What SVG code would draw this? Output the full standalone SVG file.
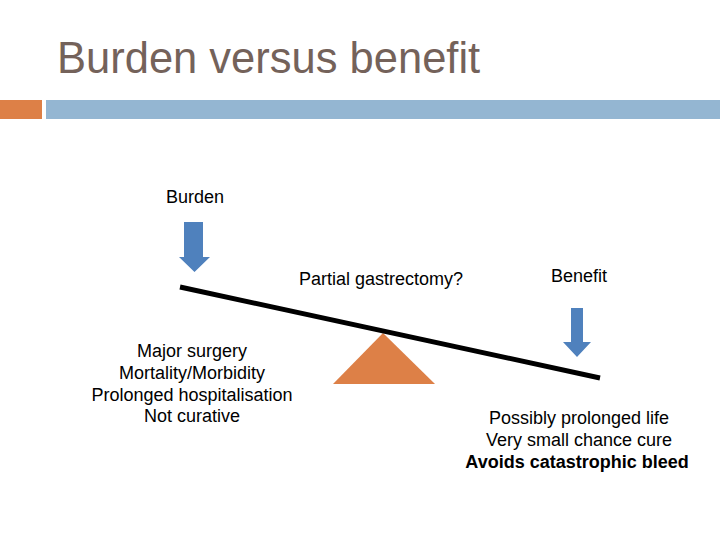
<svg xmlns="http://www.w3.org/2000/svg" width="720" height="540" viewBox="0 0 720 540">
<style>
.t{font-family:"Liberation Sans",Arial,sans-serif;font-size:18px;fill:#000;text-anchor:middle}
.b{font-weight:bold}
.arrow{fill:#4f81bd}
</style>
<rect width="720" height="540" fill="#fff"/>
<g id="header">
<text x="57" y="73" font-family="Liberation Sans, Arial, sans-serif" font-size="43.5" fill="#74625a">Burden versus benefit</text>
<rect x="0" y="100" width="42" height="19" fill="#dd8047"/>
<rect x="46" y="100" width="674" height="19" fill="#94b6d2"/>
</g>
<g id="burden">
<text class="t" x="195" y="203">Burden</text>
<polygon class="arrow" points="184,222 203,222 203,257 210,257 194.5,272 179,257 184,257"/>
</g>
<g id="benefit">
<text class="t" x="579" y="282">Benefit</text>
<polygon class="arrow" points="571,308 583,308 583,342 591,342 577,357 563,342 571,342"/>
</g>
<g id="question">
<text class="t" x="381" y="285">Partial gastrectomy?</text>
</g>
<g id="fulcrum">
<polygon points="383,333 435,384 333,384" fill="#dd8047"/>
</g>
<g id="connectors">
<line x1="180" y1="287" x2="600" y2="378" stroke="#000" stroke-width="5"/>
</g>
<g id="burden-list">
<text class="t" x="192" y="357">Major surgery</text>
<text class="t" x="192" y="379">Mortality/Morbidity</text>
<text class="t" x="192" y="401">Prolonged hospitalisation</text>
<text class="t" x="192" y="422">Not curative</text>
</g>
<g id="benefit-list">
<text class="t" x="579" y="424">Possibly prolonged life</text>
<text class="t" x="579" y="446">Very small chance cure</text>
<text class="t b" x="577" y="468">Avoids catastrophic bleed</text>
</g>
</svg>
